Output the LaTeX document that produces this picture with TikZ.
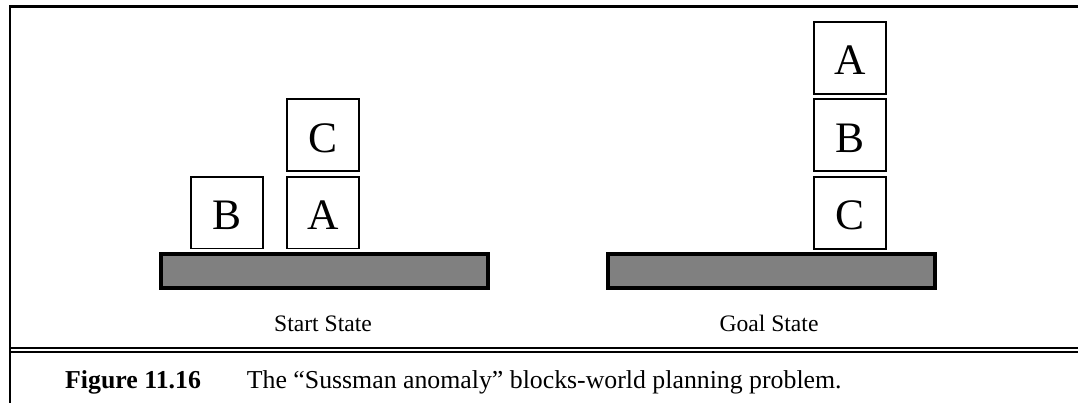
\documentclass[tikz,border=0pt]{standalone}
\usepackage{fontspec}
\setmainfont{Liberation Serif}
\definecolor{tablegray}{HTML}{808080}
\begin{document}
\begin{tikzpicture}[x=1pt,y=-1pt,
  block/.style={draw, line width=1.8pt, fill=white, minimum width=72.3pt, minimum height=71.8pt,
    inner sep=0pt, font=\fontsize{43.5}{44}\selectfont, text height=34pt, text depth=0pt},
  tabletop/.style={draw, line width=4pt, fill=tablegray, minimum height=34.3pt, inner sep=0pt},
  statelabel/.style={anchor=base, inner sep=0pt, font=\fontsize{23.6}{28}\selectfont},
  captext/.style={anchor=base west, inner sep=0pt, font=\fontsize{25.8}{30}\selectfont},
  frameline/.style={line width=2.4pt},
  ruleline/.style={line width=2.4pt}]
\useasboundingbox (0,0) rectangle (1078,403);
% frame
\coordinate (fbl) at (10,403);
\coordinate (ftl) at (10,6.5);
\coordinate (ftr) at (1078,6.5);
\draw[frameline] (fbl) -- (ftl) -- (ftr);
% double rule
\coordinate (r1l) at (10,347.8);
\coordinate (r1r) at (1078,347.8);
\coordinate (r2l) at (10,351.8);
\coordinate (r2r) at (1078,351.8);
\draw[ruleline] (r1l) -- (r1r);
\draw[ruleline] (r2l) -- (r2r);
% start state
\node[tabletop, minimum width=326.7pt] (starttable) at (324.65,270.85) {};
\node[block] (sB) at (227,212.6) {B};
\node[block] (sA) at (323,212.6) {A};
\node[block] (sC) at (323,135.3) {C};
\node[statelabel] (startlabel) at (323,331.7) {Start State};
% goal state
\node[tabletop, minimum width=327pt] (goaltable) at (771.2,270.85) {};
\node[block] (gC) at (850,212.9) {C};
\node[block] (gB) at (850,135.3) {B};
\node[block] (gA) at (850,57.9) {A};
\node[statelabel] (goallabel) at (769,331.7) {Goal State};
% caption
\node[captext, font=\fontsize{25.8}{30}\selectfont\bfseries] (capnum) at (65,388) {Figure 11.16};
\node[captext] (captxt) at (246.7,388) {The “Sussman anomaly” blocks-world planning problem.};
\end{tikzpicture}
\end{document}
